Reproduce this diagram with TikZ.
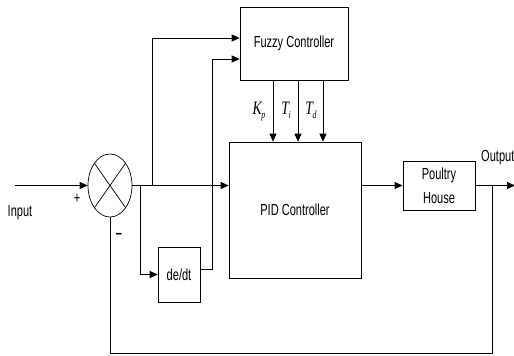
\documentclass[tikz,border=0pt]{standalone}
\usepackage{fontspec}
\setmainfont{Liberation Sans}
\newfontfamily\tms{Liberation Serif}
\usetikzlibrary{arrows.meta,shapes.geometric}
\newcommand{\cond}[1]{\scalebox{0.69}[1]{#1}}
\newcommand{\gain}[2]{\scalebox{0.72}[1]{\tms\itshape\fontsize{19}{19}\selectfont #1\kern-0.5pt\raisebox{-4pt}{\fontsize{11}{11}\selectfont #2}}}
\begin{document}
\begin{tikzpicture}[x=1pt,y=-1pt,
  blk/.style={draw, line width=0.7pt, inner sep=0pt, font=\fontsize{16}{24}\selectfont, align=center},
  lbl/.style={font=\fontsize{16}{16}\selectfont, inner sep=0pt},
  conn/.style={line width=0.7pt},
  arr/.style={conn, -{Triangle[length=8pt,width=7pt]}}]
\useasboundingbox (0,0) rectangle (514,356);
% blocks
\node[blk, minimum width=108pt, minimum height=73pt] (fuzzy) at (294,43.5) {\cond{Fuzzy Controller}};
\node[blk, minimum width=132pt, minimum height=136pt] (pid) at (295,210) {\cond{PID Controller}};
\node[blk, minimum width=42pt, minimum height=55pt] (dedt) at (179,274.5) {\cond{de/dt}};
\node[blk, minimum width=72pt, minimum height=49pt] (poultry) at (439,185.5) {\cond{Poultry}\\\cond{House}};
\node[draw, ellipse, minimum width=44pt, minimum height=63pt, inner sep=0pt, line width=0.7pt] (sum) at (110,185.5) {};
\draw[conn] (sum.center) ++(-15.6,-22.3) -- ++(31.2,44.6);
\draw[conn] (sum.center) ++(15.6,-22.3) -- ++(-31.2,44.6);
% coordinates
\coordinate (inp) at (15,185.5);
\coordinate (b1) at (152,185.5);
\coordinate (b2) at (140,185.5);
\coordinate (fb) at (492,185.5);
\coordinate (fbr) at (492,353);
\coordinate (fbl) at (110,353);
\coordinate (out) at (515,185.5);
% connectors
\draw[arr] (inp) -- (sum.west);
\draw[arr] (sum.east) -- (sum.east -| pid.west);
\draw[arr] (b1) |- ([yshift=5.5pt]fuzzy.west);
\draw[arr] (b2) |- (dedt.west);
\draw[arr] ([yshift=5.5pt]dedt.east) -- ++(12,0) |- ([yshift=-15.5pt]fuzzy.west);
\draw[arr] ([xshift=-21pt]fuzzy.south) -- ([xshift=-21pt]fuzzy.south |- pid.north);
\draw[arr] ([xshift=4pt]fuzzy.south) -- ([xshift=4pt]fuzzy.south |- pid.north);
\draw[arr] ([xshift=29pt]fuzzy.south) -- ([xshift=29pt]fuzzy.south |- pid.north);
\draw[arr] (pid.east |- sum.east) -- (poultry.west);
\draw[arr] (poultry.east) -- (out);
\draw[conn] (fb) -- (fbr) -- (fbl) -- (sum.south);
% labels
\node[lbl] (inputlbl) at (20,212.5) {\cond{Input}};
\node[lbl] (plus) at (77,199) {\cond{+}};
\node[lbl] (minus) at (119,236) {\cond{\textbf{–}}};
\node[lbl, anchor=west] (outputlbl) at (481,158) {\cond{Output}};
\node[inner sep=0pt] (kp) at (259,111) {\gain{K}{p}};
\node[inner sep=0pt] (ti) at (286,110) {\gain{T}{i}};
\node[inner sep=0pt] (td) at (311,110) {\gain{T}{d}};
\end{tikzpicture}
\end{document}
